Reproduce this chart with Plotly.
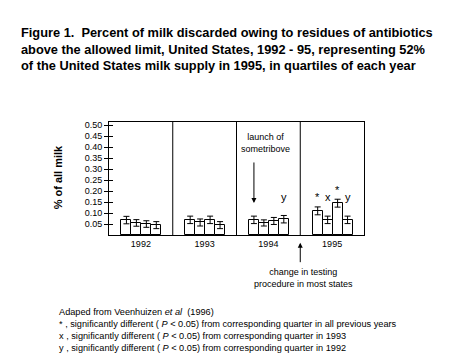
import plotly.graph_objects as go

# ---- data ----
years = ["1992", "1993", "1994", "1995"]
v1992 = [0.068, 0.055, 0.050, 0.045]
v1993 = [0.069, 0.057, 0.069, 0.045]
v1994 = [0.069, 0.055, 0.064, 0.072]
v1995 = [0.110, 0.069, 0.145, 0.069]
e1992 = [0.017, 0.015, 0.015, 0.016]
e1993 = [0.017, 0.016, 0.017, 0.016]
e1994 = [0.017, 0.014, 0.016, 0.017]
e1995 = [0.018, 0.017, 0.018, 0.017]
sig_year = ["1994", "1995", "1995", "1995", "1995"]
sig_quarter = [4, 1, 2, 3, 4]
sig_label = ["y", "*", "x", "*", "y"]
ytick_vals = [0.05, 0.10, 0.15, 0.20, 0.25, 0.30, 0.35, 0.40, 0.45, 0.50]

values = [v1992, v1993, v1994, v1995]
errors = [e1992, e1993, e1994, e1995]

PANEL = 6.4
FONT = "Liberation Sans"

def bar_x(yi, q):
    return yi * PANEL + PANEL / 2 + (q - 2.5) + 0.05

xs, ys, es = [], [], []
for yi, yr in enumerate(years):
    for q in range(1, 5):
        xs.append(bar_x(yi, q))
        ys.append(values[yi][q - 1])
        es.append(errors[yi][q - 1])

fig = go.Figure()
fig.add_trace(go.Bar(
    x=xs, y=ys, width=1.0,
    marker=dict(color="white", line=dict(color="black", width=1)),
    error_y=dict(type="data", array=es, visible=True, color="black",
                 thickness=1, width=3),
    showlegend=False, hoverinfo="skip",
))
fig.add_trace(go.Scatter(x=[None], y=[None], yaxis="y2", showlegend=False))

shapes = []
for i in range(1, len(years)):
    shapes.append(dict(type="line", xref="x", yref="paper",
                       x0=i * PANEL, x1=i * PANEL, y0=0, y1=1,
                       line=dict(color="black", width=1)))

ann = []
# significance markers
for yr, q, lab in zip(sig_year, sig_quarter, sig_label):
    yi = years.index(yr)
    top = values[yi][q - 1] + errors[yi][q - 1]
    ann.append(dict(x=bar_x(yi, q), y=max(top, 0.13), text=lab,
                    showarrow=False, yanchor="bottom", yshift=1,
                    font=dict(family=FONT, size=11, color="black")))

# launch of sometribove
yi94 = years.index("1994")
ann.append(dict(x=bar_x(yi94, 1), y=v1994[0] + e1994[0] + 0.06, text="",
                showarrow=True, ax=0, ay=-42, arrowhead=2, arrowsize=1,
                arrowwidth=1, arrowcolor="black"))
ann.append(dict(x=yi94 * PANEL + PANEL / 2, y=0.42, xshift=-3,
                xanchor="center", yanchor="middle",
                text="launch of<br>sometribove", showarrow=False,
                font=dict(family=FONT, size=9, color="black")))

# change in testing
ann.append(dict(x=3 * PANEL, y=-0.068, yref="paper", text="",
                showarrow=True, ax=0, ay=21, arrowhead=2, arrowsize=1,
                arrowwidth=1, arrowcolor="black"))
ann.append(dict(x=3 * PANEL, y=-0.38, yref="paper", xshift=3,
                xanchor="center", yanchor="middle",
                text="change in testing<br>procedure in most states",
                showarrow=False,
                font=dict(family=FONT, size=9, color="black")))

# y-axis title
ann.append(dict(x=-0.2, y=0.51, xref="paper", yref="paper",
                xanchor="center", yanchor="middle",
                text="% of all milk", textangle=-90, showarrow=False,
                font=dict(family=FONT, size=11, color="black", weight="bold")))

# main title
ann.append(dict(x=-0.353, y=1.876, xref="paper", yref="paper",
                xanchor="left", yanchor="top", align="left",
                text=("Figure 1.  Percent of milk discarded owing to residues of antibiotics<br>"
                      "above the allowed limit, United States, 1992 - 95, representing 52%<br>"
                      "of the United States milk supply in 1995, in quartiles of each year"),
                showarrow=False,
                font=dict(family=FONT, size=12.8, color="black", weight="bold")))

# footnotes
ann.append(dict(x=-0.204, y=-0.62, xref="paper", yref="paper",
                xanchor="left", yanchor="top", align="left",
                text=("Adaped from Veenhuizen <i>et al</i>  (1996)<br>"
                      "* , significantly different ( <i>P</i> &lt; 0.05) from corresponding quarter in all previous years<br>"
                      "x , significantly different ( <i>P</i> &lt; 0.05) from corresponding quarter in 1993<br>"
                      "y , significantly different ( <i>P</i> &lt; 0.05) from corresponding quarter in 1992"),
                showarrow=False,
                font=dict(family=FONT, size=9.2, color="black")))

fig.update_layout(
    width=474, height=361,
    margin=dict(l=109, r=110, t=122, b=126),
    paper_bgcolor="white", plot_bgcolor="white",
    bargap=0, hovermode=False,
    shapes=shapes, annotations=ann,
    font=dict(family=FONT, size=9, color="black"),
    xaxis=dict(range=[0, PANEL * len(years)],
               tickvals=[i * PANEL + PANEL / 2 for i in range(len(years))],
               ticktext=years, ticks="", showgrid=False, zeroline=False,
               showline=True, linecolor="black", linewidth=1, mirror=True,
               tickfont=dict(family=FONT, size=9, color="black"),
               fixedrange=True),
    yaxis=dict(range=[0, 0.515], tickvals=ytick_vals,
               ticktext=[f"{v:.2f}" for v in ytick_vals],
               ticks="outside", ticklen=4, tickcolor="black",
               showgrid=False, zeroline=False,
               showline=True, linecolor="black", linewidth=1, mirror=True,
               tickfont=dict(family=FONT, size=9, color="black")),
    yaxis2=dict(range=[0, 0.515], tickvals=ytick_vals, overlaying="y",
                side="left", anchor="x", ticks="inside", ticklen=4,
                tickcolor="black", showticklabels=False, showgrid=False,
                zeroline=False, showline=False),
)

fig.write_html("out.html", config={"displayModeBar": False},
               post_script="document.body.style.margin='0px';document.body.style.overflow='hidden';")
